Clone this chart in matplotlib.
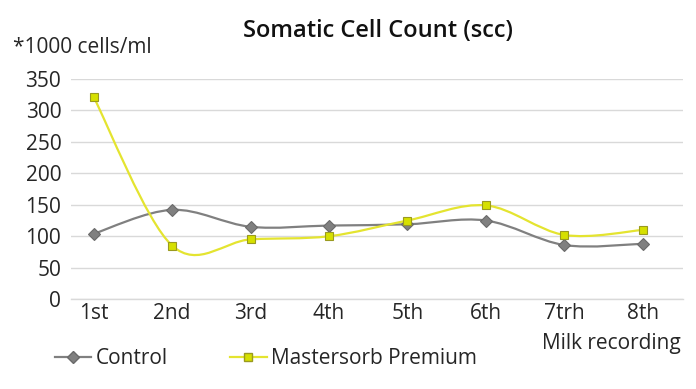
import matplotlib
matplotlib.use("Agg")
import matplotlib.pyplot as plt
import numpy as np
from matplotlib.path import Path
from matplotlib.patches import PathPatch
from matplotlib.lines import Line2D

categories = ["1st", "2nd", "3rd", "4th", "5th", "6th", "7trh", "8th"]
control = [104, 142, 115, 117, 119, 125, 86, 88]
mastersorb = [321, 85, 95, 100, 125, 149, 102, 110]
yticks = [0, 50, 100, 150, 200, 250, 300, 350]

plt.rcParams['font.family'] = ['Open Sans', 'DejaVu Sans']

fig = plt.figure(figsize=(6.96, 3.89), dpi=100)
ax = fig.add_axes([0.102, 0.231, 0.879, 0.566])

x = np.arange(len(categories))


def smooth_path(xs, ys, t=1/6):
    xs = np.asarray(xs, float)
    ys = np.asarray(ys, float)
    n = len(xs)
    verts = [(xs[0], ys[0])]
    codes = [Path.MOVETO]
    for i in range(n - 1):
        p0 = (xs[i - 1], ys[i - 1]) if i > 0 else (xs[i], ys[i])
        p1 = (xs[i], ys[i])
        p2 = (xs[i + 1], ys[i + 1])
        p3 = (xs[i + 2], ys[i + 2]) if i + 2 < n else p2
        c1 = (p1[0] + (p2[0] - p0[0]) * t, p1[1] + (p2[1] - p0[1]) * t)
        c2 = (p2[0] - (p3[0] - p1[0]) * t, p2[1] - (p3[1] - p1[1]) * t)
        verts += [c1, c2, p2]
        codes += [Path.CURVE4] * 3
    return Path(verts, codes)


gray = "#808080"
yellow_line = "#e4e430"
yellow_face = "#d6e000"
yellow_edge = "#9a9a20"
txt = "#262626"
fs = 15

ax.add_patch(PathPatch(smooth_path(x, control), fill=False, edgecolor=gray, lw=1.6, zorder=3))
ax.add_patch(PathPatch(smooth_path(x, mastersorb), fill=False, edgecolor=yellow_line, lw=1.6, zorder=3))
ax.plot(x, control, ls="none", marker="D", ms=6.5, mfc=gray, mec="#6a6a6a", mew=0.8, zorder=4)
ax.plot(x, mastersorb, ls="none", marker="s", ms=5.5, mfc=yellow_face, mec=yellow_edge, mew=0.8, zorder=5)

ax.set_xlim(-0.29, 7.51)
ax.set_ylim(0, 350)
ax.set_yticks(yticks)
ax.set_yticklabels([str(v) for v in yticks], fontsize=fs, color=txt)
ax.set_xticks(x)
ax.set_xticklabels(categories, fontsize=fs, color=txt)
ax.tick_params(axis="x", length=0, pad=3)
ax.tick_params(axis="y", length=0, pad=7)
ax.grid(axis="y", color="#d9d9d9", lw=1)
ax.set_axisbelow(True)
for s in ["top", "right", "left"]:
    ax.spines[s].set_visible(False)
ax.spines["bottom"].set_color("#d9d9d9")
ax.spines["bottom"].set_linewidth(1)

fig.text(0.543, 0.92, "Somatic Cell Count (scc)", ha="center", va="center",
         fontsize=17, fontweight="semibold", color="#111111")
fig.text(0.018, 0.878, "*1000 cells/ml", ha="left", va="center", fontsize=fs, color=txt)
fig.text(0.978, 0.118, "Milk recording", ha="right", va="center", fontsize=fs, color=txt)

handles = [
    Line2D([], [], color=gray, lw=1.6, marker="D", ms=6.5, mfc=gray, mec="#6a6a6a"),
    Line2D([], [], color=yellow_line, lw=1.6, marker="s", ms=5.5, mfc=yellow_face, mec=yellow_edge),
]
fig.legend(handles, ["Control", "Mastersorb Premium"], loc="center left",
           bbox_to_anchor=(0.079, 0.078), ncol=2, frameon=False, fontsize=fs,
           handlelength=1.75, handletextpad=0.2, columnspacing=3.0,
           labelcolor=txt, borderpad=0, borderaxespad=0)

fig.savefig("out.png", dpi=100)
